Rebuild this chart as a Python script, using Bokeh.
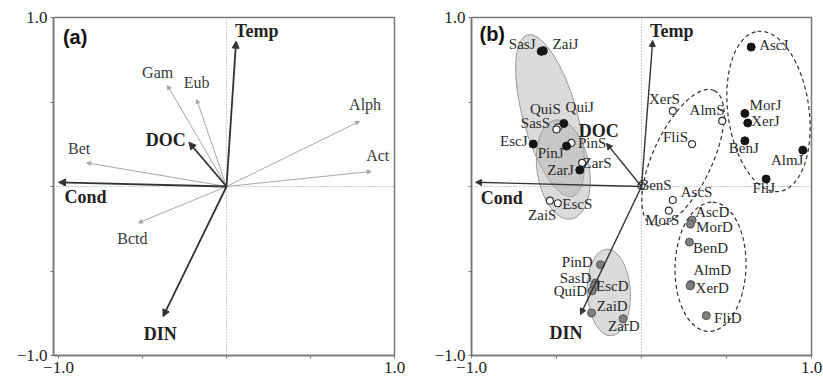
import math
from bokeh.plotting import figure
from bokeh.layouts import row
from bokeh.models import ColumnDataSource, Arrow, NormalHead, Span, Label, FixedTicker, Range1d
from bokeh.embed import file_html
from bokeh.resources import INLINE
from bokeh.core.properties import value

SERIF = "Liberation Serif"

# ---------------- Panel (a) data ----------------
env_names = ["Temp", "DOC", "Cond", "DIN"]
env_a_x = [0.057, -0.224, -1.0, -0.378]
env_a_y = [0.86, 0.262, 0.025, -0.77]
env_a_lx = [0.18, -0.362, -0.84, -0.394]
env_a_ly = [0.919, 0.278, -0.065, -0.872]

grp_names = ["Gam", "Eub", "Alph", "Act", "Bet", "Bctd"]
grp_x = [-0.352, -0.178, 0.791, 0.861, -0.832, -0.524]
grp_y = [0.598, 0.515, 0.385, 0.089, 0.140, -0.215]
grp_lx = [-0.41, -0.178, 0.825, 0.90, -0.877, -0.56]
grp_ly = [0.675, 0.615, 0.485, 0.183, 0.225, -0.31]

# ---------------- Panel (b) data ----------------
env_b_x = [0.066, -0.206, -0.976, -0.359]
env_b_y = [0.864, 0.255, 0.025, -0.758]
env_b_lx = [0.178, -0.251, -0.822, -0.444]
env_b_ly = [0.919, 0.329, -0.066, -0.866]

# June sites (filled black)
j_names = ["SasJ", "ZaiJ", "QuiJ", "EscJ", "PinJ", "ZarJ", "AscJ", "MorJ", "XerJ", "BenJ", "AlmJ", "FliJ"]
j_x = [-0.59, -0.578, -0.457, -0.637, -0.441, -0.363, 0.645, 0.608, 0.625, 0.608, 0.949, 0.733]
j_y = [0.80, 0.803, 0.373, 0.251, 0.239, 0.097, 0.825, 0.432, 0.376, 0.27, 0.215, 0.044]
j_lx = [-0.702, -0.447, -0.363, -0.751, -0.535, -0.476, 0.778, 0.729, 0.729, 0.602, 0.857, 0.719]
j_ly = [0.841, 0.845, 0.471, 0.27, 0.196, 0.097, 0.835, 0.481, 0.388, 0.225, 0.156, -0.011]

# September sites (open)
s_names = ["QuiS", "SasS", "PinS", "ZarS", "ZaiS", "EscS", "XerS", "AlmS", "FliS", "BenS", "AscS", "MorS"]
s_x = [-0.49, -0.50, -0.412, -0.349, -0.539, -0.492, 0.184, 0.475, 0.298, 0.0, 0.184, 0.161]
s_y = [0.35, 0.338, 0.258, 0.14, -0.084, -0.099, 0.447, 0.388, 0.251, 0.005, -0.08, -0.143]
s_lx = [-0.565, -0.624, -0.29, -0.261, -0.584, -0.378, 0.135, 0.386, 0.2, 0.082, 0.324, 0.122]
s_ly = [0.461, 0.373, 0.255, 0.14, -0.168, -0.105, 0.518, 0.455, 0.294, 0.009, -0.031, -0.198]

# December sites (grey)
d_names = ["PinD", "SasD", "EscD", "QuiD", "ZaiD", "ZarD", "AscD", "MorD", "BenD", "AlmD", "XerD", "FliD"]
d_x = [-0.241, -0.271, -0.278, -0.29, -0.294, -0.108, 0.298, 0.288, 0.282, 0.29, 0.286, 0.381]
d_y = [-0.463, -0.571, -0.588, -0.617, -0.748, -0.783, -0.198, -0.223, -0.329, -0.58, -0.588, -0.764]
d_lx = [-0.378, -0.388, -0.172, -0.418, -0.172, -0.104, 0.416, 0.429, 0.406, 0.416, 0.416, 0.508]
d_ly = [-0.444, -0.542, -0.591, -0.62, -0.705, -0.827, -0.149, -0.237, -0.365, -0.497, -0.601, -0.778]

# Group ellipses (x, y, major, minor, angle in degrees)
fill_ell_x = [-0.538, -0.46, -0.192]
fill_ell_y = [0.419, 0.10, -0.627]
fill_ell_w = [0.985, 0.59, 0.51]
fill_ell_h = [0.32, 0.31, 0.255]
fill_ell_a = [105.6, 99.0, 93.0]

dash_ell_x = [0.747, 0.244, 0.406]
dash_ell_y = [0.444, 0.171, -0.475]
dash_ell_w = [0.95, 0.87, 0.76]
dash_ell_h = [0.48, 0.35, 0.42]
dash_ell_a = [97.8, 65.0, 88.0]

tick_vals = [-1.0, -0.5, 0.0, 0.5, 1.0]
tick_text = {-1.0: "\u22121.0", -0.5: "", 0.0: "", 0.5: "", 1.0: "1.0"}


def base_fig(width, left, right, xr):
    p = figure(width=width, height=379, output_backend="svg", toolbar_location=None,
               x_range=Range1d(*xr), y_range=Range1d(-1.0, 1.0),
               min_border_left=left, min_border_right=right,
               min_border_top=17, min_border_bottom=24)
    p.grid.visible = False
    p.outline_line_color = "#777777"
    p.outline_line_width = 1.5
    p.background_fill_color = "white"
    p.border_fill_color = "white"
    for ax in (p.xaxis[0], p.yaxis[0]):
        ax.ticker = FixedTicker(ticks=tick_vals)
        ax.major_label_overrides = tick_text
        ax.axis_line_color = "#777777"
        ax.axis_line_width = 1.5
        ax.major_tick_line_color = "#777777"
        ax.major_tick_out = 3
        ax.major_tick_in = 0
        ax.minor_tick_line_color = None
        ax.major_label_text_font = SERIF
        ax.major_label_text_font_size = "17px"
        ax.major_label_text_color = "#222222"
        ax.major_label_standoff = 3
    p.yaxis[0].major_label_orientation = "horizontal"
    for dim in ("width", "height"):
        p.add_layout(Span(location=0, dimension=dim, line_color="#9a9a9a",
                          line_dash="1 2", line_width=1, level="underlay"))
    return p


def add_arrows(p, xs, ys, color, width, head):
    n = len(xs)
    src = ColumnDataSource(dict(x0=[0.0] * n, y0=[0.0] * n, x1=xs, y1=ys))
    p.add_layout(Arrow(source=src, x_start="x0", y_start="y0", x_end="x1", y_end="y1",
                       line_color=color, line_width=width,
                       end=NormalHead(size=head, fill_color=color, line_color=color, line_width=1)))


def add_text(p, xs, ys, texts, size, bold=False, color="#2a2a2a"):
    src = ColumnDataSource(dict(x=xs, y=ys, t=texts))
    p.text(x="x", y="y", text="t", source=src, text_font=value(SERIF),
           text_font_size=size, text_font_style="bold" if bold else "normal",
           text_align="center", text_baseline="middle", text_color=color)


# ---------------- Figure (a) ----------------
pa = base_fig(418, 53, 24, (-1.03, 1.0))
add_arrows(pa, grp_x, grp_y, "#a8a8a8", 1, 4)
add_arrows(pa, env_a_x, env_a_y, "#333333", 1.8, 7)
add_text(pa, grp_lx, grp_ly, grp_names, "16px", color="#3a3a3a")
add_text(pa, env_a_lx, env_a_ly, env_names, "18px", bold=True, color="#222222")
pa.add_layout(Label(x=-0.974, y=0.883, text="(a)", text_font="Liberation Sans",
                    text_font_style="bold", text_font_size="20px", text_baseline="middle",
                    text_color="#111111"))

# ---------------- Figure (b) ----------------
pb = base_fig(405, 53, 12, (-1.0, 1.0))
pb.ellipse(x=fill_ell_x, y=fill_ell_y, width=fill_ell_w, height=fill_ell_h,
           angle=[math.radians(a) for a in fill_ell_a],
           fill_color="#b0b0b0", fill_alpha=0.45, line_color="#9a9a9a", line_width=1)
pb.ellipse(x=dash_ell_x, y=dash_ell_y, width=dash_ell_w, height=dash_ell_h,
           angle=[math.radians(a) for a in dash_ell_a],
           fill_color=None, line_color="#333333", line_width=1.2, line_dash="4 3")
add_arrows(pb, env_b_x, env_b_y, "#333333", 1.4, 6)
pb.scatter(x=d_x, y=d_y, size=8, fill_color="#7f7f7f", line_color="#555555", line_width=1)
pb.scatter(x=s_x, y=s_y, size=7, fill_color="white", line_color="#333333", line_width=1.2)
pb.scatter(x=j_x, y=j_y, size=8, fill_color="#151515", line_color="#151515", line_width=1)
add_text(pb, j_lx, j_ly, j_names, "15px")
add_text(pb, s_lx, s_ly, s_names, "15px")
add_text(pb, d_lx, d_ly, d_names, "15px")
add_text(pb, env_b_lx, env_b_ly, env_names, "18px", bold=True, color="#222222")
pb.add_layout(Label(x=-0.953, y=0.9, text="(b)", text_font="Liberation Sans",
                    text_font_style="bold", text_font_size="20px", text_baseline="middle",
                    text_color="#111111"))

layout = row(pa, pb)
open("out.html", "w").write(file_html(layout, INLINE))
